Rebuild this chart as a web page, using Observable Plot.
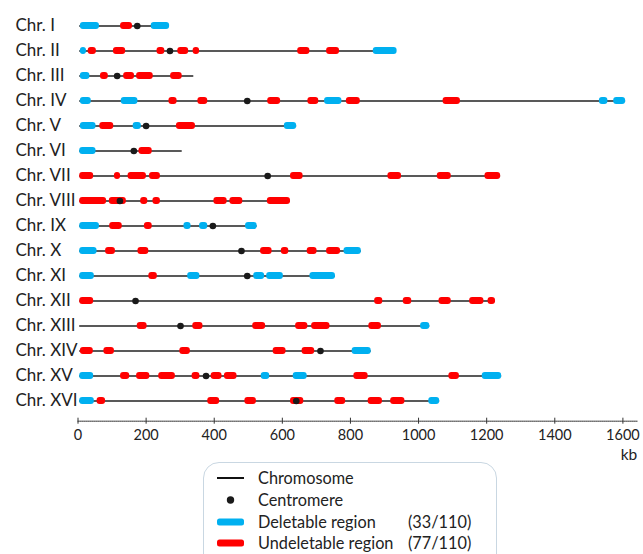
<!DOCTYPE html>
<html>
<head>
<meta charset="utf-8">
<script src="https://cdn.jsdelivr.net/npm/d3@7"></script>
<script src="https://cdn.jsdelivr.net/npm/@observablehq/plot@0.6"></script>
<style>
  html, body { margin: 0; padding: 0; background: #fff; }
  #wrap { position: relative; width: 643px; height: 554px; overflow: hidden; font-family: Lato, sans-serif; color: #222; }
  #chart svg { display: block; }
  .legend { position: absolute; left: 203px; top: 462px; width: 294px; height: 130px; border: 1.5px solid #c9d7e2; border-radius: 16px; box-sizing: border-box; }
  .row { position: absolute; left: 0; height: 22px; line-height: 22px; font-size: 16.3px; white-space: nowrap; }
  .row .sym { position: absolute; left: 13px; width: 27px; }
  .row .lab { position: absolute; left: 54px; }
  .row .cnt { position: absolute; left: 204px; }
</style>
</head>
<body>
<div id="wrap">
  <div id="chart"></div>
  <div class="legend" id="legend"></div>
</div>
<script>
// ---- data (kb) ----
const chromosomes = ["Chr. I","Chr. II","Chr. III","Chr. IV","Chr. V","Chr. VI","Chr. VII","Chr. VIII",
  "Chr. IX","Chr. X","Chr. XI","Chr. XII","Chr. XIII","Chr. XIV","Chr. XV","Chr. XVI"];
const chrStart = [5,5,5,5,5,5,5,5,5,5,5,5,5,5,5,5];
const chrEnd = [266,935,340,1608,642,306,1241,624,526,832,756,1226,1033,861,1244,1062];
const centromere = [174,270,115,497,200,164,557,123,396,480,497,169,301,712,376,641];

const deletableRegions = [
  ["Chr. I",7,63],["Chr. I",215,269],
  ["Chr. II",7,25],["Chr. II",867,937],
  ["Chr. III",7,35],
  ["Chr. IV",7,39],["Chr. IV",127,176],["Chr. IV",724,775],["Chr. IV",1531,1556],["Chr. IV",1573,1608],
  ["Chr. V",7,53],["Chr. V",162,186],["Chr. V",606,642],
  ["Chr. VI",5,53],
  ["Chr. IX",5,63],["Chr. IX",311,332],["Chr. IX",357,381],["Chr. IX",492,526],
  ["Chr. X",5,56],["Chr. X",781,832],
  ["Chr. XI",5,48],["Chr. XI",322,358],["Chr. XI",516,548],["Chr. XI",554,603],["Chr. XI",681,756],
  ["Chr. XIII",1006,1033],
  ["Chr. XIV",805,861],
  ["Chr. XV",5,46],["Chr. XV",538,563],["Chr. XV",632,673],["Chr. XV",1187,1244],
  ["Chr. XVI",5,48],["Chr. XVI",1030,1062]
];
const undeletableRegions = [
  ["Chr. I",125,160],
  ["Chr. II",30,54],["Chr. II",104,140],["Chr. II",232,255],["Chr. II",293,325],["Chr. II",338,357],["Chr. II",645,681],["Chr. II",730,768],
  ["Chr. III",66,89],["Chr. III",134,166],["Chr. III",172,221],["Chr. III",272,306],
  ["Chr. IV",267,291],["Chr. IV",352,381],["Chr. IV",557,595],["Chr. IV",675,707],["Chr. IV",788,829],["Chr. IV",1072,1123],
  ["Chr. V",64,105],["Chr. V",289,345],
  ["Chr. VI",179,218],
  ["Chr. VII",5,46],["Chr. VII",107,125],["Chr. VII",147,201],["Chr. VII",210,242],["Chr. VII",624,661],["Chr. VII",910,950],["Chr. VII",1055,1096],["Chr. VII",1195,1241],
  ["Chr. VIII",5,84],["Chr. VIII",92,142],["Chr. VIII",184,205],["Chr. VIII",220,242],["Chr. VIII",399,438],["Chr. VIII",446,484],["Chr. VIII",556,624],
  ["Chr. IX",93,130],["Chr. IX",195,218],
  ["Chr. X",81,110],["Chr. X",176,208],["Chr. X",536,570],["Chr. X",597,619],["Chr. X",673,702],["Chr. X",730,771],
  ["Chr. XI",208,233],
  ["Chr. XII",5,46],["Chr. XII",871,895],["Chr. XII",955,980],["Chr. XII",1060,1096],["Chr. XII",1150,1192],["Chr. XII",1204,1226],
  ["Chr. XIII",174,203],["Chr. XIII",337,367],["Chr. XIII",513,551],["Chr. XIII",639,675],["Chr. XIII",686,740],["Chr. XIII",854,891],
  ["Chr. XIV",7,45],["Chr. XIV",76,107],["Chr. XIV",299,330],["Chr. XIV",573,611],["Chr. XIV",658,695],
  ["Chr. XV",125,152],["Chr. XV",172,211],["Chr. XV",237,286],["Chr. XV",335,358],["Chr. XV",391,423],["Chr. XV",430,467],["Chr. XV",810,852],["Chr. XV",1089,1120],
  ["Chr. XVI",56,81],["Chr. XVI",381,416],["Chr. XVI",490,524],["Chr. XVI",624,663],["Chr. XVI",754,786],["Chr. XVI",852,894],["Chr. XVI",918,960]
];
const xTicks = [0,200,400,600,800,1000,1200,1400,1600];
const legendItems = [
  ["line", "Chromosome", ""],
  ["dot", "Centromere", ""],
  ["del", "Deletable region", "(33/110)"],
  ["undel", "Undeletable region", "(77/110)"]
];

// ---- tables built from the arrays ----
const chromTable = chromosomes.map((c, i) => ({chr: c, start: chrStart[i], end: chrEnd[i], cen: centromere[i]}));
const toRows = arr => arr.map(([chr, start, end]) => ({chr, start, end}));
const BLUE = "#00B0F0", RED = "#FF0000";

const chart = Plot.plot({
  width: 643,
  height: 462,
  marginLeft: 77.5,
  marginRight: 6.3,
  marginTop: 4.9,
  marginBottom: 41.3,
  x: {domain: [0, 1642]},
  y: {type: "band", domain: chromosomes, paddingInner: 0.705, paddingOuter: 0.537, axis: null},
  style: {fontFamily: "Lato, sans-serif", fontSize: "14.5px", color: "#222", background: "#fff"},
  marks: [
    Plot.frame({anchor: "bottom", stroke: "#333", strokeDasharray: "1,1"}),
    Plot.axisX({ticks: xTicks, tickSize: 6, dy: -3, tickFormat: () => "", stroke: "#333"}),
    Plot.axisX({ticks: xTicks, tickSize: 0, tickPadding: 9, fontSize: 14.5, label: null, tickFormat: d => String(d)}),
    Plot.ruleY(chromTable, {y: "chr", x1: "start", x2: "end", stroke: "#222", strokeWidth: 1.3}),
    Plot.barX(toRows(deletableRegions), {y: "chr", x1: "start", x2: "end", fill: BLUE, rx: 3}),
    Plot.barX(toRows(undeletableRegions), {y: "chr", x1: "start", x2: "end", fill: RED, rx: 3}),
    Plot.dot(chromTable, {y: "chr", x: "cen", r: 3.3, fill: "#1a1a1a"}),
    Plot.text(chromosomes, {y: d => d, text: d => d, frameAnchor: "left", textAnchor: "start", dx: -62.5, fontSize: 17, fill: "#222"}),
    Plot.text(["kb"], {text: d => d, frameAnchor: "bottom-right", textAnchor: "end", dy: 39, fontSize: 15.5, fill: "#222"})
  ]
});
document.getElementById("chart").appendChild(chart);

// ---- legend ----
const legend = document.getElementById("legend");
const rowCenters = [16, 38, 60, 81];
legendItems.forEach(([kind, label, count], i) => {
  const row = document.createElement("div");
  row.className = "row";
  row.style.top = (rowCenters[i] - 11 - 1.5) + "px";
  let sym;
  if (kind === "line") sym = `<svg width="27" height="22"><line x1="0" x2="27" y1="11" y2="11" stroke="#111" stroke-width="2"/></svg>`;
  else if (kind === "dot") sym = `<svg width="27" height="22"><circle cx="13.5" cy="11" r="3.7" fill="#1a1a1a"/></svg>`;
  else sym = `<svg width="27" height="22"><rect x="0" y="7.5" width="27" height="7" rx="2.5" fill="${kind === "del" ? BLUE : RED}"/></svg>`;
  row.innerHTML = `<span class="sym" style="top:0;height:22px;display:block">${sym}</span><span class="lab">${label}</span>` + (count ? `<span class="cnt">${count}</span>` : "");
  row.style.width = "290px";
  legend.appendChild(row);
});
</script>
</body>
</html>
